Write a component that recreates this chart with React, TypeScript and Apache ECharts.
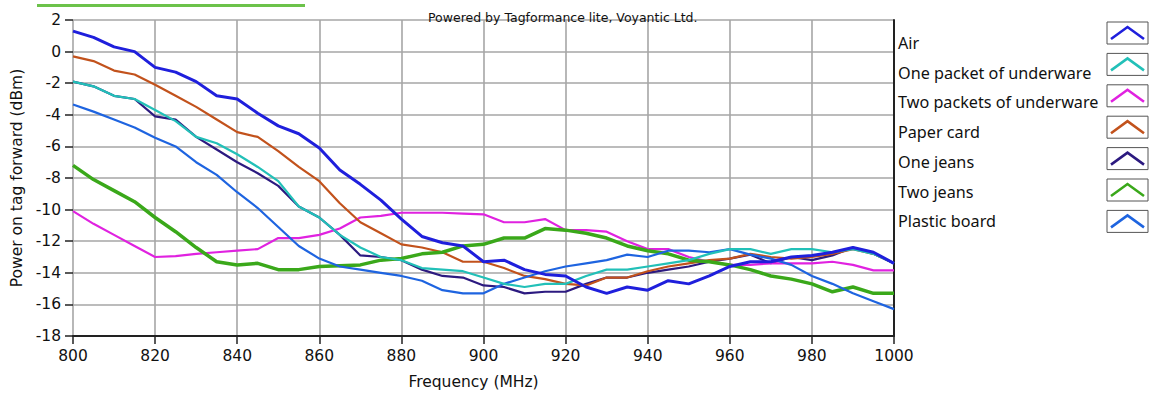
import React, { useEffect, useRef } from "react";
import * as echarts from "echarts";

const frequencies = [800, 805, 810, 815, 820, 825, 830, 835, 840, 845, 850, 855, 860, 865, 870, 875, 880, 885, 890, 895, 900, 905, 910, 915, 920, 925, 930, 935, 940, 945, 950, 955, 960, 965, 970, 975, 980, 985, 990, 995, 1000];

const air = [1.3, 0.9, 0.3, 0.0, -1.0, -1.3, -1.9, -2.8, -3.0, -3.9, -4.7, -5.2, -6.1, -7.5, -8.4, -9.4, -10.6, -11.7, -12.1, -12.3, -13.3, -13.2, -13.8, -14.1, -14.2, -14.9, -15.3, -14.9, -15.1, -14.5, -14.7, -14.2, -13.6, -13.3, -13.3, -13.0, -12.9, -12.7, -12.4, -12.7, -13.4];
const onePacket = [-1.9, -2.2, -2.8, -3.0, -3.7, -4.4, -5.4, -5.8, -6.5, -7.3, -8.2, -9.8, -10.5, -11.6, -12.4, -13.0, -13.2, -13.7, -13.8, -13.9, -14.3, -14.7, -14.9, -14.7, -14.7, -14.2, -13.8, -13.8, -13.6, -13.4, -13.2, -12.8, -12.5, -12.5, -12.8, -12.5, -12.5, -12.7, -12.5, -12.8, -13.4];
const twoPackets = [-10.1, -10.9, -11.6, -12.3, -13.0, -12.95, -12.8, -12.7, -12.6, -12.5, -11.8, -11.8, -11.6, -11.2, -10.5, -10.4, -10.2, -10.2, -10.2, -10.25, -10.3, -10.8, -10.8, -10.6, -11.3, -11.3, -11.4, -12.0, -12.5, -12.5, -13.0, -13.3, -13.5, -13.5, -13.4, -13.4, -13.4, -13.3, -13.5, -13.85, -13.85];
const paperCard = [-0.3, -0.6, -1.2, -1.45, -2.1, -2.8, -3.5, -4.3, -5.1, -5.4, -6.3, -7.3, -8.2, -9.6, -10.8, -11.5, -12.2, -12.4, -12.7, -13.3, -13.3, -13.7, -14.2, -14.4, -14.7, -14.8, -14.3, -14.3, -13.9, -13.6, -13.4, -13.2, -13.1, -12.8, -13.0, -13.1, -13.0, -12.8, -12.5, -12.8, -13.4];
const oneJeans = [-1.9, -2.2, -2.8, -3.0, -4.1, -4.3, -5.4, -6.2, -7.0, -7.7, -8.5, -9.8, -10.5, -11.6, -12.9, -13.0, -13.2, -13.8, -14.2, -14.3, -14.8, -14.9, -15.3, -15.2, -15.2, -14.7, -14.3, -14.3, -14.0, -13.8, -13.6, -13.3, -13.1, -12.85, -13.4, -13.0, -13.2, -12.9, -12.4, -12.8, -13.4];
const twoJeans = [-7.2, -8.1, -8.8, -9.5, -10.5, -11.4, -12.4, -13.3, -13.5, -13.4, -13.8, -13.8, -13.6, -13.55, -13.5, -13.2, -13.1, -12.8, -12.7, -12.3, -12.2, -11.8, -11.8, -11.2, -11.3, -11.5, -11.8, -12.3, -12.6, -12.8, -13.2, -13.3, -13.5, -13.8, -14.2, -14.4, -14.7, -15.2, -14.9, -15.3, -15.3];
const plasticBoard = [-3.35, -3.8, -4.3, -4.8, -5.45, -6.0, -7.0, -7.8, -8.9, -9.9, -11.1, -12.3, -13.1, -13.6, -13.8, -14.0, -14.2, -14.5, -15.1, -15.3, -15.3, -14.7, -14.3, -13.9, -13.6, -13.4, -13.2, -12.85, -13.0, -12.6, -12.6, -12.7, -12.5, -12.85, -13.1, -13.5, -14.2, -14.7, -15.3, -15.8, -16.3];

const seriesNames = ["Air", "One packet of underware", "Two packets of underware", "Paper card", "One jeans", "Two jeans", "Plastic board"];
const seriesValues = [air, onePacket, twoPackets, paperCard, oneJeans, twoJeans, plasticBoard];
const seriesColors = ["#1f1fdc", "#22c0b8", "#e022e0", "#c2521c", "#2c1a80", "#3aa81a", "#1e64e0"];
const seriesWidths = [3, 2.2, 2.2, 2.2, 2.2, 3.5, 2.2];
const seriesZ = [5, 3, 2, 2, 1, 2, 2];

const xTicks = { min: 800, max: 1000, interval: 20 };
const yTicks = { min: -18, max: 2, interval: 2 };

const TITLE = "Powered by Tagformance lite, Voyantic Ltd.";
const X_NAME = "Frequency (MHz)";
const Y_NAME = "Power on tag forward (dBm)";

export default function App() {
  const ref = useRef<HTMLDivElement>(null);
  useEffect(() => {
    if (!ref.current) return;
    const chart = echarts.init(ref.current, undefined, { renderer: "svg" });
    const axisFont = "DejaVu Sans";
    const legendIcons: any[] = [];
    seriesNames.forEach((_, i) => {
      const top = 22 + i * 31.4;
      legendIcons.push({
        type: "group",
        x: 1107,
        y: top,
        children: [
          { type: "rect", shape: { x: 0, y: 0, width: 41, height: 22 }, style: { fill: "#fff", stroke: "#555", lineWidth: 1 } },
          { type: "polyline", shape: { points: [[4, 17], [20.5, 5], [37, 17]] }, style: { stroke: seriesColors[i], lineWidth: 2.6, fill: "none" } },
        ],
      });
    });
    const option: any = {
      animation: false,
      backgroundColor: "#ffffff",
      title: {
        text: TITLE,
        left: 423,
        top: 6,
        textStyle: { fontFamily: axisFont, fontSize: 12.5, fontWeight: "normal", color: "#111" },
      },
      legend: {
        orient: "vertical",
        left: 888,
        top: 29,
        icon: "none",
        itemWidth: 0,
        itemHeight: 18,
        itemGap: 11.7,
        data: seriesNames,
        selectedMode: false,
        textStyle: { fontFamily: "Noto Sans", fontSize: 16.2, color: "#111", lineHeight: 18 },
      },
      grid: { left: 73, right: 256, top: 20, bottom: 64 },
      xAxis: {
        type: "value",
        min: xTicks.min,
        max: xTicks.max,
        interval: xTicks.interval,
        name: X_NAME,
        nameLocation: "middle",
        nameGap: 38,
        nameTextStyle: { fontFamily: axisFont, fontSize: 15.5, color: "#111", padding: [0, 20, 0, 0] },
        axisLine: { show: true, onZero: false, lineStyle: { color: "#222", width: 2 } },
        axisTick: { show: true, length: 8, lineStyle: { color: "#222", width: 1.5 } },
        axisLabel: { fontFamily: axisFont, fontSize: 15.5, color: "#111", margin: 12, formatter: (v: number) => String(v) },
        splitLine: { show: true, lineStyle: { color: "#a6a6a6", width: 1.6 } },
      },
      yAxis: [
        {
          type: "value",
          min: yTicks.min,
          max: yTicks.max,
          interval: yTicks.interval,
          name: Y_NAME,
          nameLocation: "middle",
          nameGap: 46,
          nameTextStyle: { fontFamily: axisFont, fontSize: 15.5, color: "#111" },
          axisLine: { show: false },
          axisTick: { show: true, length: 8, lineStyle: { color: "#222", width: 1.5 } },
          axisLabel: { fontFamily: axisFont, fontSize: 15.5, color: "#111", margin: 12 },
          splitLine: { show: true, lineStyle: { color: "#a6a6a6", width: 1.6 } },
        },
        {
          type: "value",
          min: yTicks.min,
          max: yTicks.max,
          interval: yTicks.interval,
          position: "right",
          axisLine: { show: true, lineStyle: { color: "#222", width: 2 } },
          axisTick: { show: false },
          axisLabel: { show: false },
          splitLine: { show: false },
        },
      ],
      graphic: [
        { type: "rect", shape: { x: 37, y: 4, width: 268, height: 3 }, style: { fill: "#6cc24a" } },
        ...legendIcons,
      ],
      series: seriesNames.map((name, i) => ({
        name,
        type: "line",
        showSymbol: false,
        symbol: "none",
        z: seriesZ[i],
        color: seriesColors[i],
        lineStyle: { color: seriesColors[i], width: seriesWidths[i] },
        data: frequencies.map((f, k) => [f, seriesValues[i][k]]),
      })),
    };
    chart.setOption(option);
    return () => chart.dispose();
  }, []);
  return <div ref={ref} style={{ position: "fixed", left: 0, top: 0, width: 1150, height: 400, background: "#fff" }} />;
}
